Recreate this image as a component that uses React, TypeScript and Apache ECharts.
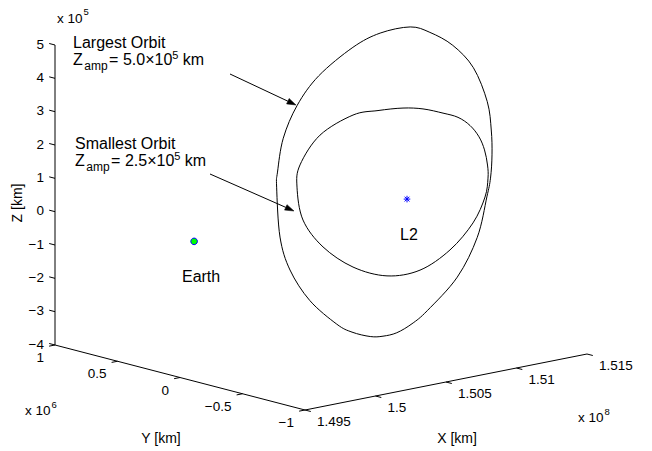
import React, { useEffect, useRef } from 'react';
import * as echarts from 'echarts';

// ---------------- data (axis units: X in 1e8 km, Y in 1e6 km, Z in 1e5 km) ----------------
const xTicks = [1.495, 1.5, 1.505, 1.51, 1.515];
const yTicks = [1, 0.5, 0, -0.5, -1];
const zTicks = [5, 4, 3, 2, 1, 0, -1, -2, -3, -4];

const earthPos = { x: 1.496, y: 0, z: 0 };
const l2Pos = { x: 1.5111, y: 0, z: 0 };

const orbitPlaneX = 1.5111;
const largeOrbitY = [-0.026, -0.183, -0.366, -0.531, -0.642, -0.674, -0.68, -0.668, -0.639, -0.562, -0.402, -0.162, -0.04, 0.082, 0.192, 0.294, 0.44, 0.562, 0.778, 0.936, 1.016, 1.043, 1.036, 0.990, 0.878, 0.706, 0.433, 0.215];
const largeOrbitZ = [5.19, 5.18, 4.97, 4.46, 3.55, 2.73, 1.99, 1.28, 0.69, -0.60, -1.95, -3.19, -3.70, -4.09, -4.30, -4.41, -4.42, -4.30, -3.80, -3.04, -2.13, -0.66, -0.20, 0.86, 1.96, 3.01, 4.13, 4.77];
const smallOrbitY = [0.032, -0.128, -0.288, -0.408, -0.504, -0.576, -0.62, -0.644, -0.648, -0.624, -0.528, -0.344, -0.104, 0.16, 0.432, 0.672, 0.832, 0.88, 0.856, 0.696, 0.432, 0.232];
const smallOrbitZ = [2.70, 2.83, 2.86, 2.85, 2.70, 2.43, 2.08, 1.65, 1.26, 0.67, -0.20, -1.19, -2.03, -2.46, -2.46, -2.09, -1.44, -0.50, 0.19, 1.24, 2.10, 2.43];

const xLabel = 'X [km]';
const yLabel = 'Y [km]';
const zLabel = 'Z [km]';

// ---------------- layout (view projection) ----------------
const W = 652;
const H = 451;
const X0 = 1.495, X1 = 1.515, Y0 = -1, Y1 = 1, Z0 = -4, Z1 = 5;
const ORIGIN = [305, 410];
const UX = [14100, -2800];
const UY = [-125, -32.5];
const UZ = [0, -33.333];

function proj(x: number, y: number, z: number): number[] {
  return [
    ORIGIN[0] + (x - X0) * UX[0] + (y - Y0) * UY[0] + (z - Z0) * UZ[0],
    ORIGIN[1] + (x - X0) * UX[1] + (y - Y0) * UY[1] + (z - Z0) * UZ[1],
  ];
}
function unit(v: number[]) {
  const l = Math.hypot(v[0], v[1]);
  return [v[0] / l, v[1] / l];
}

// closed Catmull-Rom curve through the points, as an SVG path string
function closedCurve(p: number[][]) {
  const n = p.length;
  let d = `M${p[0][0]},${p[0][1]}`;
  for (let i = 0; i < n; i++) {
    const p0 = p[(i - 1 + n) % n], p1 = p[i], p2 = p[(i + 1) % n], p3 = p[(i + 2) % n];
    const c1 = [p1[0] + (p2[0] - p0[0]) / 6, p1[1] + (p2[1] - p0[1]) / 6];
    const c2 = [p2[0] - (p3[0] - p1[0]) / 6, p2[1] - (p3[1] - p1[1]) / 6];
    d += ` C${c1[0]},${c1[1]} ${c2[0]},${c2[1]} ${p2[0]},${p2[1]}`;
  }
  return d + ' Z';
}

const FONT = '"Liberation Sans", Arial, Helvetica, sans-serif';
let mctx: CanvasRenderingContext2D | null = null;
function tw(t: string, size: number) {
  if (!mctx) mctx = document.createElement('canvas').getContext('2d');
  if (!mctx) return t.length * size * 0.55;
  mctx.font = `${size}px ${FONT}`;
  return mctx.measureText(t).width;
}
const fmt = (v: number) => String(v).replace('-', '\u2212');

function txt(t: string, x: number, y: number, size: number, align = 'left', valign = 'middle', rotation = 0) {
  return {
    type: 'text',
    x,
    y,
    rotation,
    style: { text: t, x: 0, y: 0, fill: '#000', fontSize: size, fontFamily: FONT, align, verticalAlign: valign },
  };
}
function seg(a: number[], b: number[], color = '#000') {
  return { type: 'line', shape: { x1: a[0], y1: a[1], x2: b[0], y2: b[1] }, style: { stroke: color, lineWidth: 1 } };
}

// rich line: pieces [text, size, dy, gapAfter]
function richLine(x: number, y: number, pieces: [string, number, number, number][]) {
  const out: any[] = [];
  let cx = x;
  for (const [t, s, dy, gap] of pieces) {
    out.push(txt(t, cx, y + dy, s, 'left', 'middle'));
    cx += tw(t, s) + gap;
  }
  return out;
}

const annotations = [
  { title: 'Largest Orbit', amp: '5.0', x: 73, y: 42.5, tail: [230, 74], tip: [296, 105] },
  { title: 'Smallest Orbit', amp: '2.5', x: 75, y: 143.5, tail: [210, 174], tip: [294, 211] },
];

export default function App() {
  const ref = useRef<HTMLDivElement>(null);
  useEffect(() => {
    if (!ref.current) return;
    const chart = echarts.init(ref.current, undefined, { renderer: 'svg' });

    const largePts = largeOrbitY.map((y, i) => proj(orbitPlaneX, y, largeOrbitZ[i]));
    const smallPts = smallOrbitY.map((y, i) => proj(orbitPlaneX, y, smallOrbitZ[i]));
    const earthPt = proj(earthPos.x, earthPos.y, earthPos.z);
    const l2Pt = proj(l2Pos.x, l2Pos.y, l2Pos.z);

    const orbitSeries = (name: string, pts: number[][]) => ({
      type: 'custom',
      name,
      clip: false,
      silent: true,
      data: pts,
      renderItem: (params: any, api: any) => {
        if (params.dataIndex !== 0) return null;
        const p = pts.map((q) => api.coord(q));
        return {
          type: 'path',
          shape: { pathData: closedCurve(p) },
          style: { fill: 'none', stroke: '#000', lineWidth: 1 },
        };
      },
    });

    const option: any = {
      animation: false,
      backgroundColor: '#fff',
      grid: { left: 0, right: 0, top: 0, bottom: 0 },
      xAxis: { type: 'value', min: 0, max: W, show: false },
      yAxis: { type: 'value', min: 0, max: H, inverse: true, show: false },
      series: [
        {
          type: 'custom',
          name: 'axes',
          clip: false,
          silent: true,
          data: [[0, 0]],
          renderItem: (params: any, api: any) => {
            const P = (x: number, y: number, z: number) => api.coord(proj(x, y, z));
            const ch: any[] = [];
            ch.push(seg(P(X0, Y1, Z0), P(X0, Y1, Z1)));
            ch.push(seg(P(X0, Y1, Z0), P(X0, Y0, Z0)));
            ch.push(seg(P(X0, Y0, Z0), P(X1, Y0, Z0)));
            const dY = unit(UY);
            const dX = unit(UX);
            const L = 6;
            zTicks.forEach((z) => {
              const a = P(X0, Y1, z);
              ch.push(seg(a, [a[0] + dY[0] * L, a[1] + dY[1] * L]));
              ch.push(txt(fmt(z), a[0] - 11, a[1] - 1, 13.5, 'right', 'middle'));
            });
            yTicks.forEach((y) => {
              const a = P(X0, y, Z0);
              ch.push(seg(a, [a[0] - dX[0] * L, a[1] - dX[1] * L]));
              ch.push(txt(fmt(y), a[0] - 11, a[1] + 12.5, 13.5, 'right', 'middle'));
            });
            xTicks.forEach((x) => {
              const a = P(x, Y0, Z0);
              ch.push(seg(a, [a[0] - dY[0] * L, a[1] - dY[1] * L]));
              ch.push(txt(fmt(x), a[0] + 12, a[1] + 11, 13.5, 'left', 'middle'));
            });
            ch.push(...richLine(57, 18, [['x 10', 13.5, 0, 1], ['5', 9.5, -7, 0]]));
            ch.push(...richLine(25, 410, [['x 10', 13.5, 0, 1], ['6', 9.5, -6, 0]]));
            ch.push(...richLine(578, 417, [['x 10', 13.5, 0, 1], ['8', 9.5, -6, 0]]));
            ch.push(txt(zLabel, 17, 203, 14, 'center', 'middle', Math.PI / 2));
            ch.push(txt(yLabel, 161, 438, 14, 'center', 'middle'));
            ch.push(txt(xLabel, 457, 438, 14, 'center', 'middle'));
            return { type: 'group', children: ch };
          },
        },
        orbitSeries('Largest Orbit', largePts),
        orbitSeries('Smallest Orbit', smallPts),
        {
          type: 'custom',
          name: 'bodies',
          clip: false,
          silent: true,
          data: [earthPt, l2Pt],
          renderItem: (params: any, api: any) => {
            const c = api.coord([api.value(0), api.value(1)]);
            if (params.dataIndex === 0) {
              return {
                type: 'group',
                children: [
                  { type: 'circle', shape: { cx: c[0], cy: c[1], r: 3.3 }, style: { fill: '#00ff00', stroke: '#0000ff', lineWidth: 1 } },
                  txt('Earth', c[0] + 7, c[1] + 35.5, 16, 'center', 'middle'),
                ],
              };
            }
            const r = 3.3, d = 2.4;
            return {
              type: 'group',
              children: [
                seg([c[0] - r, c[1]], [c[0] + r, c[1]], '#0000ff'),
                seg([c[0], c[1] - r], [c[0], c[1] + r], '#0000ff'),
                seg([c[0] - d, c[1] - d], [c[0] + d, c[1] + d], '#0000ff'),
                seg([c[0] - d, c[1] + d], [c[0] + d, c[1] - d], '#0000ff'),
                txt('L2', c[0] + 2, c[1] + 35, 16, 'center', 'middle'),
              ],
            };
          },
        },
        {
          type: 'custom',
          name: 'annotations',
          clip: false,
          silent: true,
          data: annotations.map((a) => a.tip),
          renderItem: (params: any, api: any) => {
            const a = annotations[params.dataIndex];
            const tail = api.coord(a.tail);
            const tip = api.coord(a.tip);
            const dir = unit([tip[0] - tail[0], tip[1] - tail[1]]);
            const nrm = [-dir[1], dir[0]];
            const hl = 9, hw = 3;
            const base = [tip[0] - dir[0] * hl, tip[1] - dir[1] * hl];
            const ch: any[] = [];
            ch.push(seg(tail, base));
            ch.push({
              type: 'polygon',
              shape: { points: [tip, [base[0] + nrm[0] * hw, base[1] + nrm[1] * hw], [base[0] - nrm[0] * hw, base[1] - nrm[1] * hw]] },
              style: { fill: '#000', stroke: '#000', lineWidth: 0.5 },
            });
            ch.push(txt(a.title, a.x, a.y, 16, 'left', 'middle'));
            const y2 = a.y + 16.6;
            ch.push(
              ...richLine(a.x, y2, [
                ['Z', 16, 0, 1.5],
                ['amp', 12, 7, 1.5],
                [`= ${a.amp}\u00d710`, 16, 0, 0],
                ['5', 11, -4, 0],
                [' km', 16, 0, 0],
              ])
            );
            return { type: 'group', children: ch };
          },
        },
      ],
    };
    chart.setOption(option);
    return () => chart.dispose();
  }, []);
  return <div ref={ref} style={{ position: 'absolute', left: 0, top: 0, width: W, height: H, background: '#fff' }} />;
}
